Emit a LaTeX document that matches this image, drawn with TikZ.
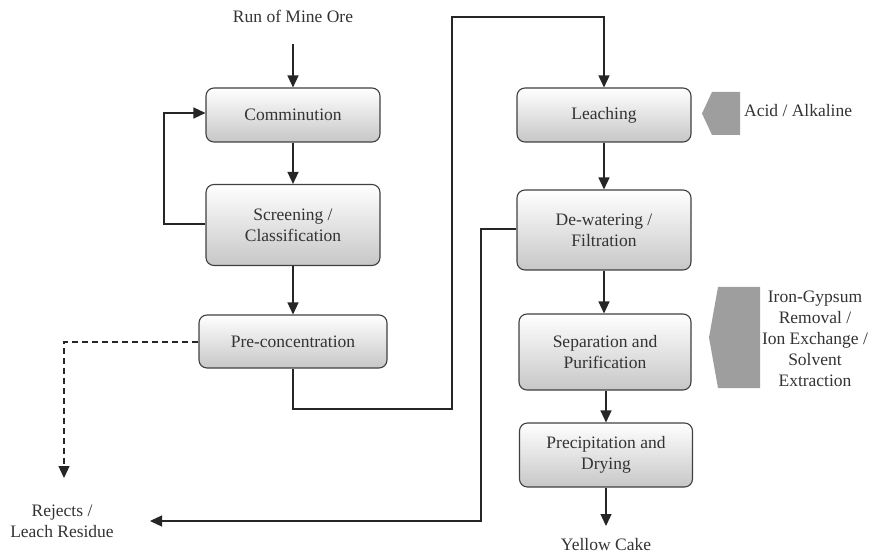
\documentclass[tikz,border=0pt]{standalone}
\usepackage{fontspec}
\setmainfont{Liberation Serif}
\usetikzlibrary{arrows.meta}
\begin{document}
\begin{tikzpicture}[x=1pt,y=-1pt,
  font=\fontsize{17.5}{21}\selectfont,
  proc/.style={draw=black!75, line width=1.1pt, rounded corners=8pt,
    top color=white, bottom color=black!22, align=center, inner sep=0pt,
    text=black!80},
  lbl/.style={align=center, text=black!80, inner sep=0pt},
  flow/.style={draw=black!85, line width=1.3pt, -{Triangle[length=12pt,width=11pt]}},
  feed/.style={fill=black!38, draw=none}]
\useasboundingbox (0,0) rectangle (879,556);

% process boxes
\node[proc, minimum width=174pt, minimum height=54pt] (comm) at (293,115) {Comminution};
\node[proc, minimum width=174pt, minimum height=81pt] (scr) at (293,225) {Screening /\\Classification};
\node[proc, minimum width=188pt, minimum height=53pt] (pre) at (293,341.5) {Pre-concentration};
\node[proc, minimum width=174pt, minimum height=54pt] (leach) at (604,115) {Leaching};
\node[proc, minimum width=174pt, minimum height=80pt] (dew) at (604,230) {De-watering /\\Filtration};
\node[proc, minimum width=172pt, minimum height=76pt] (sep) at (605,352) {Separation and\\Purification};
\node[proc, minimum width=173pt, minimum height=64pt] (prec) at (606,455) {Precipitation and\\Drying};

% text labels
\node[lbl] (rom) at (293,16) {Run of Mine Ore};
\node[lbl] (rej) at (62,521) {Rejects /\\Leach Residue};
\node[lbl] (yc) at (606,545) {Yellow Cake};
\node[lbl, anchor=west] (acid) at (744,111) {Acid / Alkaline};
\node[lbl] (iron) at (815,339) {Iron-Gypsum\\Removal /\\Ion Exchange /\\Solvent\\Extraction};

% feed markers
\fill[feed] (712,92) -- (702,113.5) -- (712,135) -- (740,135) -- (740,92) -- cycle;
\fill[feed] (718,287) -- (709,337.5) -- (718,388) -- (760,388) -- (760,287) -- cycle;

% coordinates
\coordinate (romend) at (293,44);
\coordinate (fb1) at (164,224);
\coordinate (fb2) at (164,113);
\coordinate (p1) at (293,409);
\coordinate (p2) at (452,409);
\coordinate (p3) at (452,17);
\coordinate (p4) at (604,17);
\coordinate (d1) at (481,229);
\coordinate (d2) at (481,521);
\coordinate (rejin) at (150,521);
\coordinate (q1) at (64,342);
\coordinate (q2) at (64,478);
\coordinate (ycend) at (606,526);

% connectors
\draw[flow] (romend) -- (comm.north);
\draw[flow] (comm.south) -- (scr.north);
\draw[flow] (scr.west |- fb1) -- (fb1) -- (fb2) -- (comm.west |- fb2);
\draw[flow] (scr.south) -- (pre.north);
\draw[flow] (pre.south) -- (p1) -- (p2) -- (p3) -- (p4) -- (leach.north);
\draw[flow] (leach.south) -- (dew.north);
\draw[flow] (dew.west |- d1) -- (d1) -- (d2) -- (rejin);
\draw[flow, dashed, dash pattern=on 6pt off 4pt] (pre.west |- q1) -- (q1) -- (q2);
\draw[flow] (dew.south) -- (sep.north -| dew.south);
\draw[flow] (sep.south -| prec.north) -- (prec.north);
\draw[flow] (prec.south) -- (ycend);
\end{tikzpicture}
\end{document}
